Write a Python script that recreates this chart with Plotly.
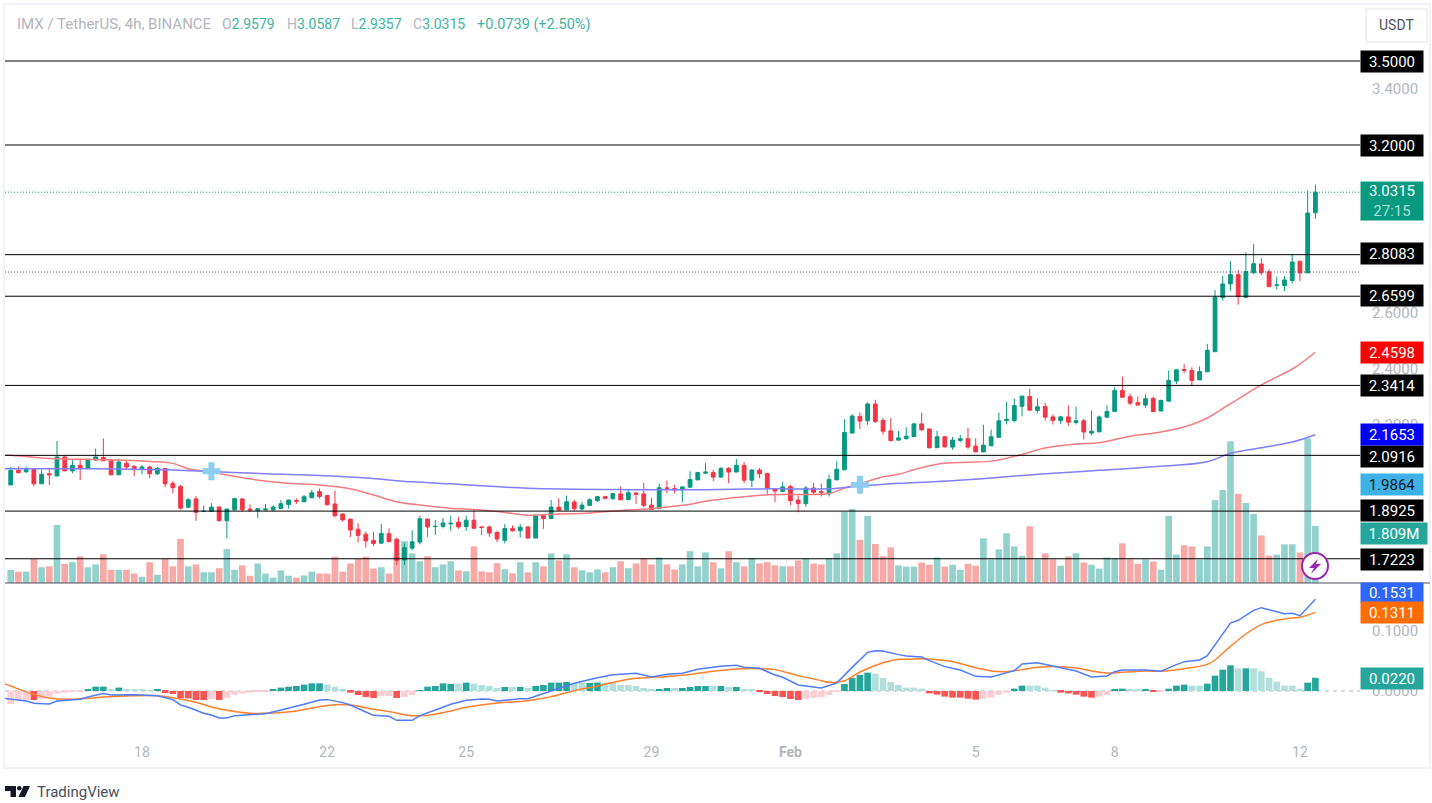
import pandas as pd
import plotly.graph_objects as go

W, H = 1432, 803

# 4h candles: open, high, low, close
ohlc = [
    (1.986,2.050,1.986,2.038),(2.038,2.052,2.026,2.030),(2.033,2.052,2.029,2.041),(2.041,2.041,1.981,1.990),(1.990,2.041,1.990,2.024),
    (2.026,2.042,1.986,2.022),(2.018,2.143,2.018,2.086),(2.086,2.088,2.036,2.036),(2.036,2.074,2.028,2.056),(2.056,2.078,2.003,2.046),
    (2.046,2.078,2.046,2.078),(2.075,2.116,2.071,2.086),(2.084,2.152,2.072,2.072),(2.072,2.077,2.022,2.022),(2.022,2.080,2.022,2.068),
    (2.063,2.071,2.042,2.050),(2.052,2.057,2.018,2.044),(2.045,2.057,2.024,2.050),(2.050,2.054,2.010,2.026),(2.026,2.050,2.021,2.045),
    (2.045,2.045,1.978,1.990),(1.991,2.000,1.956,1.976),(1.980,1.986,1.898,1.903),(1.906,1.939,1.906,1.933),(1.936,1.946,1.858,1.888),
    (1.891,1.912,1.891,1.892),(1.891,1.921,1.891,1.907),(1.907,1.909,1.855,1.858),(1.858,1.900,1.795,1.900),(1.897,1.940,1.894,1.937),
    (1.936,1.938,1.891,1.898),(1.900,1.916,1.889,1.897),(1.894,1.902,1.868,1.901),(1.897,1.918,1.892,1.900),(1.897,1.914,1.892,1.907),
    (1.902,1.932,1.902,1.919),(1.916,1.933,1.901,1.932),(1.930,1.938,1.918,1.928),(1.926,1.950,1.924,1.944),(1.940,1.969,1.939,1.958),
    (1.962,1.973,1.938,1.945),(1.948,1.950,1.913,1.915),(1.918,1.966,1.870,1.876),(1.882,1.884,1.855,1.861),(1.864,1.864,1.800,1.825),
    (1.828,1.849,1.781,1.806),(1.810,1.819,1.762,1.786),(1.788,1.819,1.768,1.777),(1.778,1.846,1.776,1.813),(1.812,1.831,1.780,1.784),
    (1.792,1.798,1.700,1.717),(1.718,1.778,1.700,1.762),(1.760,1.824,1.752,1.783),(1.782,1.876,1.774,1.865),(1.864,1.866,1.800,1.836),
    (1.837,1.860,1.807,1.838),(1.838,1.867,1.831,1.850),(1.847,1.876,1.822,1.849),(1.853,1.872,1.829,1.836),(1.837,1.876,1.822,1.860),
    (1.860,1.900,1.831,1.831),(1.836,1.838,1.807,1.834),(1.836,1.841,1.800,1.814),(1.816,1.823,1.781,1.793),(1.788,1.846,1.777,1.830),
    (1.830,1.841,1.819,1.822),(1.822,1.846,1.798,1.835),(1.836,1.838,1.795,1.796),(1.796,1.882,1.796,1.876),(1.877,1.882,1.829,1.866),
    (1.866,1.932,1.866,1.907),(1.907,1.939,1.892,1.896),(1.897,1.948,1.897,1.926),(1.925,1.933,1.894,1.901),(1.900,1.926,1.897,1.914),
    (1.913,1.938,1.910,1.933),(1.930,1.946,1.925,1.944),(1.944,1.948,1.934,1.938),(1.937,1.957,1.932,1.955),(1.954,1.980,1.931,1.933),
    (1.934,1.972,1.932,1.958),(1.957,1.960,1.918,1.952),(1.954,1.994,1.906,1.913),(1.914,1.940,1.896,1.898),(1.901,1.991,1.900,1.976),
    (1.975,2.002,1.956,1.974),(1.973,1.987,1.956,1.968),(1.968,1.980,1.924,1.979),(1.978,2.035,1.975,2.005),(2.004,2.033,2.003,2.030),
    (2.028,2.064,2.024,2.032),(2.030,2.040,2.000,2.014),(2.014,2.050,2.011,2.045),(2.045,2.050,1.992,2.032),(2.032,2.078,2.032,2.056),
    (2.056,2.068,1.992,2.003),(2.003,2.042,1.978,2.039),(2.039,2.046,2.010,2.026),(2.027,2.030,1.954,1.973),(1.973,1.975,1.924,1.964),
    (1.963,1.998,1.960,1.979),(1.980,1.987,1.913,1.930),(1.932,1.948,1.888,1.920),(1.919,1.982,1.908,1.975),(1.975,1.994,1.954,1.960),
    (1.962,1.991,1.945,1.960),(1.954,2.023,1.945,2.005),(2.004,2.071,2.004,2.042),(2.040,2.220,2.040,2.173),(2.171,2.239,2.171,2.232),
    (2.231,2.245,2.186,2.214),(2.215,2.281,2.200,2.275),(2.275,2.290,2.208,2.212),(2.216,2.225,2.166,2.178),(2.179,2.224,2.142,2.144),
    (2.146,2.179,2.144,2.154),(2.152,2.192,2.147,2.160),(2.159,2.208,2.157,2.204),(2.204,2.244,2.179,2.183),(2.186,2.186,2.115,2.119),
    (2.119,2.179,2.119,2.158),(2.158,2.160,2.119,2.122),(2.121,2.157,2.112,2.146),(2.145,2.165,2.138,2.151),(2.151,2.190,2.115,2.121),
    (2.125,2.153,2.103,2.104),(2.104,2.201,2.103,2.128),(2.126,2.183,2.124,2.158),(2.156,2.244,2.156,2.215),(2.216,2.282,2.202,2.220),
    (2.216,2.294,2.210,2.269),(2.267,2.305,2.231,2.303),(2.302,2.329,2.252,2.253),(2.252,2.294,2.242,2.265),(2.266,2.279,2.216,2.228),
    (2.229,2.238,2.202,2.216),(2.216,2.233,2.204,2.229),(2.229,2.270,2.197,2.210),(2.209,2.266,2.202,2.215),(2.215,2.222,2.148,2.175),
    (2.171,2.252,2.163,2.178),(2.176,2.234,2.173,2.229),(2.228,2.270,2.226,2.248),(2.248,2.335,2.248,2.323),(2.323,2.373,2.299,2.299),
    (2.301,2.311,2.270,2.278),(2.280,2.302,2.271,2.271),(2.271,2.309,2.261,2.294),(2.295,2.302,2.246,2.248),(2.250,2.290,2.250,2.288),
    (2.285,2.395,2.285,2.359),(2.357,2.399,2.346,2.397),(2.398,2.417,2.386,2.395),(2.395,2.406,2.341,2.359),(2.361,2.409,2.361,2.391),
    (2.390,2.490,2.390,2.467),(2.462,2.682,2.460,2.656),(2.655,2.733,2.644,2.704),(2.704,2.785,2.678,2.737),(2.737,2.754,2.630,2.659),
    (2.656,2.817,2.653,2.748),(2.744,2.846,2.739,2.776),(2.775,2.796,2.735,2.744),(2.747,2.756,2.693,2.694),(2.699,2.730,2.685,2.700),
    (2.698,2.732,2.678,2.718),(2.716,2.808,2.706,2.782),(2.785,2.785,2.713,2.743),(2.743,3.037,2.743,2.957),(2.9579,3.0587,2.9357,3.0315),
]

# volume in millions
vol = [
    .42,.36,.36,.76,.50,.53,1.84,.61,.66,.85,.50,.59,.91,.42,.42,.42,.30,.20,.66,.26,
    .76,.53,1.40,.53,.59,.34,.34,.47,1.08,.42,.56,.23,.62,.30,.17,.40,.23,.17,.24,.36,
    .30,.30,.83,.36,.62,.76,.83,.46,.50,.30,.83,1.33,.94,.69,.85,.50,.59,.69,.40,.37,
    1.16,.37,.34,.63,.44,.31,.66,.34,.66,.53,.94,.72,.91,.50,.40,.34,.43,.34,.50,.69,
    .47,.62,.78,.59,.81,.59,.43,.59,1.01,.53,.97,.66,.47,1.01,.66,.53,.78,.62,.66,.56,
    .53,.53,.72,.78,.62,.59,.78,.94,2.26,2.35,1.37,2.13,1.24,.85,1.13,.56,.52,.52,.65,.58,
    .81,.52,.58,.42,.61,.55,1.42,.75,1.07,1.58,1.16,.87,1.80,.75,.94,.75,.55,.84,.94,.65,
    .58,.46,.81,.77,1.26,.75,.61,.75,.68,.42,2.13,.90,1.20,1.16,.75,1.16,2.63,2.95,4.50,2.83,
    2.54,2.19,1.51,.87,.90,1.23,1.23,.97,4.59,1.809,
]

hist = [
    -.0217,-.015,-.015,-.015,-.0128,-.0094,-.0044,-.0028,-.0011,-.0006,
    .0033,.0072,.0072,.0028,.0056,.0028,.0028,.0028,.0011,.0017,
    -.0033,-.005,-.0122,-.0122,-.015,-.015,-.0133,-.015,-.0117,-.0067,
    -.0044,-.0028,-.0011,-.0006,.0033,.0056,.0072,.0083,.0106,.0128,
    .0128,.0106,.0072,.0028,-.0028,-.0067,-.01,-.0117,-.0083,-.0083,
    -.0117,-.01,-.0067,.0011,.0072,.0083,.0128,.0117,.0117,.0139,
    .0122,.01,.0083,.005,.0067,.0067,.0067,.005,.0083,.01,
    .0139,.0139,.015,.0133,.0139,.0133,.0139,.0139,.0144,.01,
    .01,.0083,.005,.0017,.0033,.005,.005,.005,.0067,.0083,
    .0083,.0083,.0083,.0067,.0067,.0033,.0033,-.0011,-.005,-.0083,
    -.01,-.0133,-.015,-.0133,-.0117,-.01,-.0067,-.0017,.0117,.0217,
    .0267,.0306,.0289,.0217,.015,.01,.0056,.0056,.0039,-.0039,
    -.0061,-.0094,-.0111,-.0111,-.0128,-.0144,-.0128,-.0111,-.0061,-.0028,
    .0039,.0089,.0089,.0089,.0056,.0006,-.0028,-.0039,-.0061,-.0094,
    -.0111,-.0094,-.0061,.0022,.0039,.0033,.0022,.0028,-.0011,-.0006,
    .0039,.0089,.0106,.0089,.0089,.0122,.0256,.0356,.0428,.0378,
    .0378,.0378,.0328,.0222,.0156,.0089,.0089,.0039,.0139,.022,
]
shade = ("LLLDLLLLLL" "DDDLDLLLLD" "DDDDDDLDLL" "LLLLDDDDDD" "DLLLDDDDLL" "DLLDDDDDLD"
         "LLLLDLDLDD" "DDDLLDDLLL" "LLLLDDLDDD" "DLDLDLLDDD" "DDDLLLLLDD" "DDLLLLLLLD"
         "DDDDDDLLLL" "DDLLLLDDDD" "DLLDDLLDDL" "DDDLLDDDDL" "DLLLLLLLDD")

# indicator lines, read at (bar number, value)
ma_red = [(-1,2.092),(0,2.092),(5,2.080),(12,2.076),(18,2.070),(21,2.063),(23,2.044),(26,2.032),(29,2.017),(33,2.000),(37,1.990),
          (40,1.986),(44,1.972),(47,1.950),(50,1.926),(53,1.914),(57,1.903),(60,1.898),(63,1.891),(67,1.878),(71,1.882),
          (75,1.886),(79,1.895),(83,1.901),(87,1.913),(91,1.932),(95,1.944),(98,1.951),(103,1.952),(106,1.955),(108,1.975),
          (110,1.990),(113,2.015),(115,2.024),(117,2.040),(120,2.060),(124,2.067),(127,2.071),(131,2.095),(134,2.118),
          (138,2.132),(141,2.137),(145,2.160),(149,2.175),(153,2.202),(155,2.225),(158,2.276),(162,2.343),(166,2.400),
          (167,2.418),(169,2.4598)]
ma_blue = [(-1,2.044),(0,2.044),(7,2.044),(16,2.042),(20,2.040),(25,2.035),(33,2.026),(40,2.020),(46,2.011),(52,1.997),(57,1.990),
           (60,1.985),(67,1.974),(80,1.969),(90,1.969),(98,1.972),(106,1.972),(110,1.982),(115,1.992),(120,1.998),(127,2.011),
           (134,2.026),(141,2.038),(148,2.051),(155,2.069),(158,2.099),(162,2.119),(166,2.139),(169,2.1653)]
macd = [(-1,-.0122),(0,-.0133),(1,-.0156),(2,-.0167),(3,-.0206),(5,-.0217),(6,-.0167),(9,-.0139),(10,-.0100),(12,-.0044),(13,-.0067),
        (16,-.0061),(19,-.0078),(21,-.0144),(22,-.0233),(23,-.0272),(25,-.0372),(26,-.0400),(27,-.0450),(28,-.0450),
        (29,-.0411),(31,-.0400),(33,-.0378),(35,-.0317),(37,-.0261),(38,-.0222),(40,-.0150),(41,-.0144),(43,-.0194),
        (44,-.0233),(46,-.0350),(47,-.0406),(49,-.0422),(50,-.0489),(52,-.0489),(53,-.0411),(55,-.0317),(57,-.0222),
        (58,-.0189),(59,-.0156),(61,-.0133),(62,-.0139),(63,-.0167),(66,-.0128),(67,-.0128),(70,.0006),(73,.0128),
        (76,.0222),(78,.0272),(81,.0294),(83,.0233),(85,.0278),(87,.0294),(89,.0361),(92,.0411),(94,.0428),(95,.0394),
        (97,.0378),(98,.0317),(99,.0267),(100,.0228),(102,.0100),(105,.0050),(107,.0133),(109,.0394),(111,.0644),
        (112,.0672),(113,.0667),(115,.0606),(116,.0583),(118,.0567),(119,.0506),(121,.0406),(123,.0350),(125,.0244),
        (127,.0233),(130,.0339),(131,.0450),(133,.0472),(135,.0417),(138,.0333),(140,.0233),(142,.0250),(143,.0322),
        (144,.0350),(147,.0350),(149,.0328),(151,.0439),(152,.0489),(154,.0517),(155,.0589),(158,.1133),(159,.1178),
        (161,.1344),(162,.1389),(164,.1322),(165,.1289),(166,.1294),(167,.1256),(169,.1531)]
signal = [(-1,.0128),(0,.0083),(1,.0033),(3,-.0056),(5,-.0117),(7,-.0139),(10,-.0122),(12,-.0100),(15,-.0083),(19,-.0078),(21,-.0111),
          (24,-.0189),(26,-.0267),(28,-.0322),(31,-.0372),(34,-.0367),(37,-.0333),(40,-.0261),(42,-.0228),(44,-.0233),
          (47,-.0306),(49,-.0344),(52,-.0411),(54,-.0406),(57,-.0333),(58,-.0300),(60,-.0250),(63,-.0200),(67,-.0161),
          (70,-.0094),(73,.0006),(76,.0083),(79,.0172),(81,.0211),(84,.0233),(87,.0261),(91,.0328),(94,.0367),(97,.0372),
          (99,.0356),(102,.0256),(105,.0172),(106,.0144),(108,.0172),(110,.0317),(113,.0472),(115,.0528),(116,.0528),
          (118,.0539),(120,.0522),(122,.0489),(125,.0389),(127,.0333),(129,.0322),(131,.0356),(133,.0394),(136,.0406),
          (138,.0383),(140,.0333),(142,.0300),(144,.0311),(147,.0333),(149,.0328),(152,.0372),(155,.0444),(156,.0517),
          (158,.0744),(160,.0950),(162,.1106),(164,.1178),(166,.1217),(167,.1228),(169,.1311)]

levels = [3.5, 3.2, 2.8083, 2.6599, 2.3414, 2.0916, 1.8925, 1.7223]

start = pd.Timestamp("2024-01-15 04:00")
step = pd.Timedelta(hours=4)
dates = pd.date_range(start, periods=len(ohlc), freq="4h")
df = pd.DataFrame(ohlc, columns=["o", "h", "l", "c"], index=dates)
df["vol"] = vol
df["hist"] = hist


def bar_time(i):
    return start + i * step


def line(points, color, yaxis, width=1.5, shape="linear"):
    return go.Scatter(
        x=[bar_time(i) for i, v in points], y=[v for i, v in points],
        mode="lines", line=dict(color=color, width=width, shape=shape), yaxis=yaxis, hoverinfo="skip",
    )


def px(x):
    return x / W


def py(y):
    return 1 - y / H


vol_colors = ["#93d2cc" if c >= o else "#f7a9a7" for o, c in zip(df["o"], df["c"])]
hist_colors = []
for v, s in zip(hist, shade):
    if v >= 0:
        hist_colors.append("#26a69a" if s == "D" else "#b2dfdb")
    else:
        hist_colors.append("#ff5252" if s == "D" else "#ffcdd2")

traces = [
    go.Bar(x=dates, y=df["vol"], marker=dict(color=vol_colors, line=dict(width=0)), yaxis="y", hoverinfo="skip"),
    go.Candlestick(
        x=dates, open=df["o"], high=df["h"], low=df["l"], close=df["c"], yaxis="y2",
        increasing=dict(line=dict(color="#089981", width=1), fillcolor="#089981"),
        decreasing=dict(line=dict(color="#f23645", width=1), fillcolor="#f23645"),
        whiskerwidth=0, hoverinfo="skip",
    ),
    line(ma_red, "#f77c80", "y2", shape="spline"),
    line(ma_blue, "#7f7fff", "y2", shape="spline"),
    go.Scatter(
        x=[bar_time(26), bar_time(110)], y=[2.035, 1.9864], mode="markers", yaxis="y2",
        marker=dict(symbol="cross", size=15, color="#8ccdf0", line=dict(width=0)), hoverinfo="skip",
    ),
    go.Bar(x=dates, y=df["hist"], marker=dict(color=hist_colors, line=dict(width=0)), yaxis="y3", hoverinfo="skip"),
    line(signal, "#ff7f2a", "y3", shape="spline"),
    line(macd, "#4f7cff", "y3"),
]

shapes = []
# chart frame and pane separator
shapes.append(dict(type="rect", xref="paper", yref="paper", x0=px(4), x1=px(1430), y0=py(4), y1=py(768),
                   line=dict(color="#f0f3fa", width=2), layer="below"))
shapes.append(dict(type="line", xref="paper", yref="paper", x0=px(5), x1=px(1430), y0=py(583), y1=py(583),
                   line=dict(color="#50535e", width=1)))
for lv in levels:
    shapes.append(dict(type="line", xref="x domain", yref="y2", x0=0, x1=1, y0=lv, y1=lv,
                       line=dict(color="#000000", width=1)))
shapes.append(dict(type="line", xref="x domain", yref="y2", x0=0, x1=1, y0=3.0315, y1=3.0315,
                   line=dict(color="#089981", width=1, dash="1px,2px")))
shapes.append(dict(type="line", xref="x domain", yref="y2", x0=0, x1=1, y0=2.7464, y1=2.7464,
                   line=dict(color="#50535e", width=1, dash="1px,2px")))
shapes.append(dict(type="line", xref="x domain", yref="y3", x0=0, x1=1, y0=0, y1=0,
                   line=dict(color="#b2b5be", width=1, dash="4px,4px"), layer="below"))


def paper_path(points, close=True):
    d = " ".join(("M" if k == 0 else "L") + f"{px(x):.5f},{py(y):.5f}" for k, (x, y) in enumerate(points))
    return d + (" Z" if close else "")


# USDT button
shapes.append(dict(type="rect", xref="paper", yref="paper", x0=px(1366), x1=px(1427), y0=py(9), y1=py(42),
                   line=dict(color="#e0e3eb", width=1), fillcolor="#ffffff"))
# bolt badge on the last bars
shapes.append(dict(type="circle", xref="paper", yref="paper", x0=px(1302), x1=px(1328), y0=py(553), y1=py(579),
                   line=dict(color="#9c27b0", width=2), fillcolor="#ffffff"))
shapes.append(dict(type="path", xref="paper", yref="paper", line=dict(width=0), fillcolor="#9c27b0",
                   path=paper_path([(1318, 559), (1309, 568), (1314, 568), (1311, 574), (1321, 564), (1316, 564)])))
# TradingView mark
shapes.append(dict(type="path", xref="paper", yref="paper", line=dict(width=0), fillcolor="#131722",
                   path=paper_path([(5, 786), (16, 786), (16, 797), (10.5, 797), (10.5, 791), (5, 791)])))
shapes.append(dict(type="circle", xref="paper", yref="paper", x0=px(17), x1=px(21.5), y0=py(786), y1=py(790.5),
                   line=dict(width=0), fillcolor="#131722"))
shapes.append(dict(type="path", xref="paper", yref="paper", line=dict(width=0), fillcolor="#131722",
                   path=paper_path([(23.5, 786), (30, 786), (25, 797), (18.5, 797)])))


def badge(text, y, color, fg="#ffffff", x0=1361, x1=1423, h=21):
    return dict(
        x=px((x0 + x1) / 2), y=py(y), xref="paper", yref="paper", text=text, showarrow=False,
        width=x1 - x0, height=h, bgcolor=color, borderpad=0, xanchor="center", yanchor="middle",
        font=dict(family="Roboto", size=15, color=fg),
    )


GRAY = "#b2b5be"
TEAL = "#3fb39f"
annotations = [
    badge("3.5000", 62, "#000000"),
    badge("3.2000", 145, "#000000"),
    badge("3.0315<br><span style='color:#a8e0d3'>27:15</span>", 201, "#089981", h=38),
    badge("2.8083", 254, "#000000"),
    badge("2.6599", 296, "#000000"),
    badge("2.4598", 352, "#ff0000"),
    badge("2.3414", 386, "#000000"),
    badge("2.0916", 456, "#000000"),
    badge("2.1653", 435, "#0000ff"),
    badge("1.9864", 484, "#3eb2e6", fg="#131722"),
    badge("1.8925", 510, "#000000"),
    badge("1.809M", 533, "#26a69a", x1=1427),
    badge("1.7223", 559, "#000000"),
    badge("0.1531", 592, "#2f66ff", h=19),
    badge("0.1311", 612, "#ff6d00"),
    badge("0.0220", 678, "#26a69a"),
]


def head(text, x, color=GRAY, size=14):
    return dict(x=px(x), y=py(24), xref="paper", yref="paper", text=text, showarrow=False, xanchor="left",
                yanchor="middle", font=dict(family="Roboto", size=size, color=color))


def ohlc_text(letter, value):
    return f"<span style='color:{GRAY}'>{letter}</span><span style='color:{TEAL}'>{value}</span>"


annotations += [
    head("IMX / TetherUS, 4h, BINANCE", 15, size=15),
    head(ohlc_text("O", "2.9579"), 220),
    head(ohlc_text("H", "3.0587"), 285),
    head(ohlc_text("L", "2.9357"), 349),
    head(ohlc_text("C", "3.0315"), 411),
    head("+0.0739 (+2.50%)", 475, TEAL, size=14.5),
    dict(x=px(1396.5), y=py(25), xref="paper", yref="paper", text="USDT", showarrow=False,
         xanchor="center", yanchor="middle", font=dict(family="Roboto", size=14, color="#50535e")),
    dict(x=px(35), y=py(792), xref="paper", yref="paper", text="TradingView", showarrow=False,
         xanchor="left", yanchor="middle", font=dict(family="Roboto", size=15, color="#4a4e5a")),
]

layout = go.Layout(
    width=W, height=H,
    margin=dict(l=0, r=0, t=0, b=0, autoexpand=False),
    paper_bgcolor="#ffffff", plot_bgcolor="#ffffff",
    showlegend=False, bargap=0.14,
    font=dict(family="Roboto", size=14, color=GRAY),
    xaxis=dict(
        domain=[px(5), px(1360)], anchor="y3",
        range=[bar_time(-0.74), bar_time(174.78)],
        showgrid=False, zeroline=False, showline=False, ticks="",
        rangeslider=dict(visible=False),
        tickmode="array",
        tickvals=["2024-01-18", "2024-01-22", "2024-01-25", "2024-01-29", "2024-02-01", "2024-02-05", "2024-02-08", "2024-02-12"],
        ticktext=["18", "22", "25", "29", "<b>Feb</b>", "5", "8", "12"],
        ticklabelstandoff=2,
        tickfont=dict(size=14, color=GRAY),
    ),
    # volume sits under the price pane on its own scale
    yaxis=dict(domain=[py(583), py(5)], range=[0, 18.35], visible=False, anchor="x"),
    yaxis2=dict(
        overlaying="y", side="right", anchor="x", range=[1.6357, 3.7],
        showgrid=False, zeroline=False, showline=False, ticks="",
        tickmode="array", tickvals=[3.4, 2.6, 2.4, 2.2], tickformat=".4f",
        ticklabelstandoff=11, tickfont=dict(size=15, color=GRAY),
    ),
    yaxis3=dict(
        domain=[py(740), py(583)], side="right", anchor="x", range=[-.0817, .18],
        showgrid=False, zeroline=False, showline=False, ticks="",
        tickmode="array", tickvals=[0.1, 0.0], tickformat=".4f",
        ticklabelstandoff=11, tickfont=dict(size=15, color=GRAY),
    ),
    shapes=shapes, annotations=annotations,
)

fig = go.Figure(data=traces, layout=layout)

fig.write_html("out.html", config=dict(displayModeBar=False),
               post_script="document.body.style.margin='0';document.documentElement.style.overflow='hidden';")
